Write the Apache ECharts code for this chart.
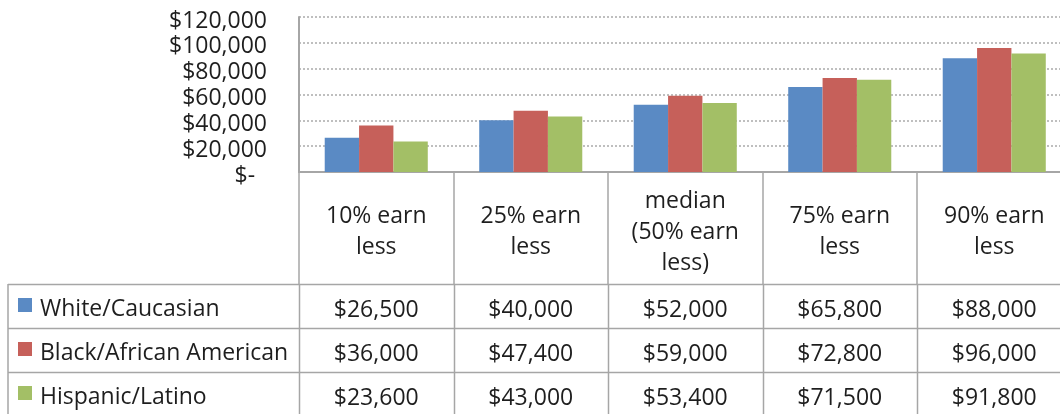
<!DOCTYPE html>
<html>
<head>
<meta charset="utf-8">
<script src="https://cdn.jsdelivr.net/npm/echarts@6/dist/echarts.min.js"></script>
<style>
  html, body { margin: 0; padding: 0; background: #fff; }
  #main { width: 1060px; height: 414px; }
</style>
</head>
<body>
<div id="main"></div>
<script>
// data
var categories = ["10% earn\nless", "25% earn\nless", "median\n(50% earn\nless)", "75% earn\nless", "90% earn\nless"];
var seriesNames = ["White/Caucasian", "Black/African American", "Hispanic/Latino"];
var white = [26500, 40000, 52000, 65800, 88000];
var black = [36000, 47400, 59000, 72800, 96000];
var hispanic = [23600, 43000, 53400, 71500, 91800];
var yMin = 0, yMax = 120000, yStep = 20000;

var colors = ["#5A8AC4", "#C6605A", "#A3BF66"];
var lineColor = "#A6A6A6";
var font = "Open Sans";
var textColor = "#1e1e1e";
var fontSize = 23;

function money(v) {
  if (v === 0) return "$-  ";
  return "$" + v.toLocaleString("en-US");
}

var chart = echarts.init(document.getElementById("main"));

var headerHeight = 112;
var rowHeight = 44;

var option = {
  animation: false,
  color: colors,
  textStyle: { fontFamily: font },
  grid: { left: 299, top: 17, width: 772.5, bottom: 242, containLabel: false, outerBoundsMode: "none" },
  xAxis: {
    type: "category",
    data: categories,
    axisLine: { show: true, lineStyle: { color: lineColor, width: 2 } },
    axisTick: { show: true, interval: 0, length: headerHeight, lineStyle: { color: lineColor, width: 1.5 } },
    axisLabel: {
      interval: 0,
      margin: headerHeight / 2 + 4,
      verticalAlign: "middle",
      lineHeight: 31,
      fontSize: fontSize,
      fontFamily: font,
      color: textColor
    },
    splitLine: { show: false }
  },
  yAxis: {
    type: "value",
    min: yMin,
    max: yMax,
    interval: yStep,
    axisLine: { show: true, lineStyle: { color: lineColor, width: 2 } },
    axisTick: { show: false },
    axisLabel: {
      margin: 32,
      fontSize: fontSize,
      fontFamily: font,
      color: textColor,
      verticalAlign: "top",
      lineHeight: 24,
      padding: [-8, 0, 0, 0],
      formatter: money
    },
    splitLine: { show: true, lineStyle: { color: "#ABABAB", type: [2, 2], width: 1.5 } }
  },
  series: [
    { name: seriesNames[0], type: "bar", data: white, barGap: "0%", barCategoryGap: "33.3%" },
    { name: seriesNames[1], type: "bar", data: black, barGap: "0%", barCategoryGap: "33.3%" },
    { name: seriesNames[2], type: "bar", data: hispanic, barGap: "0%", barCategoryGap: "33.3%" }
  ]
};

chart.setOption(option);

// data table under the axis, placed from the chart's own scales
var rows = [white, black, hispanic];
var c0 = chart.convertToPixel({ xAxisIndex: 0 }, 0);
var c1 = chart.convertToPixel({ xAxisIndex: 0 }, 1);
var band = c1 - c0;
var axisY = chart.convertToPixel({ yAxisIndex: 0 }, 0);
var tableTop = axisY + headerHeight;
var tableBottom = tableTop + rowHeight * rows.length;
var tableLeft = 8;
var rightEdge = c0 - band / 2 + band * categories.length;
var lineStyle = { stroke: lineColor, lineWidth: 1.5 };

var elements = [];
// vertical lines below the axis
for (var k = 0; k <= categories.length; k++) {
  var x = Math.round(c0 - band / 2 + k * band) + 0.5;
  elements.push({ type: "line", shape: { x1: x, y1: tableTop, x2: x, y2: tableBottom }, style: lineStyle, silent: true });
}
elements.push({ type: "line", shape: { x1: tableLeft, y1: tableTop, x2: tableLeft, y2: tableBottom }, style: lineStyle, silent: true });
// horizontal lines
for (var r = 0; r <= rows.length; r++) {
  var y = Math.round(tableTop + r * rowHeight) + 0.5;
  elements.push({ type: "line", shape: { x1: tableLeft, y1: y, x2: rightEdge, y2: y }, style: lineStyle, silent: true });
}
// rows: legend key, name, values
rows.forEach(function (vals, r) {
  var cy = tableTop + r * rowHeight + rowHeight / 2;
  elements.push({ type: "rect", shape: { x: 18, y: cy - 8, width: 14, height: 14 }, style: { fill: colors[r] }, silent: true });
  elements.push({
    type: "text", x: 40, y: cy + 3,
    style: { text: seriesNames[r], fill: textColor, font: fontSize + "px '" + font + "'", verticalAlign: "middle", align: "left" },
    silent: true
  });
  vals.forEach(function (v, i) {
    var cx = chart.convertToPixel({ xAxisIndex: 0 }, i);
    elements.push({
      type: "text", x: cx, y: cy + 4,
      style: { text: money(v), fill: textColor, font: fontSize + "px '" + font + "'", verticalAlign: "middle", align: "center" },
      silent: true
    });
  });
});

chart.setOption({ graphic: elements });
</script>
</body>
</html>
